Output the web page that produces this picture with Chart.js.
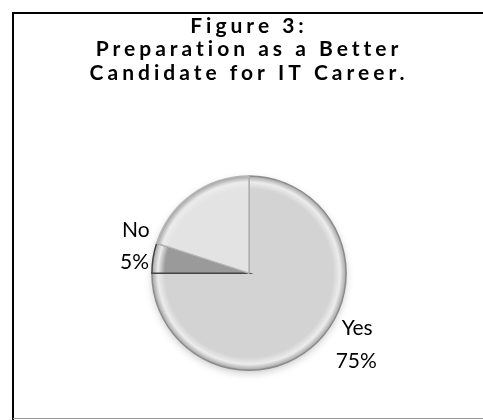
<!DOCTYPE html>
<html>
<head>
<meta charset="utf-8">
<script src="https://cdn.jsdelivr.net/npm/chart.js@4/dist/chart.umd.min.js"></script>
<style>
  html, body { margin: 0; padding: 0; background: #fff; }
  #wrap { width: 483px; height: 420px; }
</style>
</head>
<body>
<div id="wrap"><canvas id="myCanvas" width="483" height="420"></canvas></div>
<script>
const titleLines = ["Figure 3:", "Preparation as a Better", "Candidate for IT Career."]
const categories = ["Yes", "No", ""]
const percentages = [75, 5, 20]
const sliceColors = ["#d3d3d3", "#9a9a9a", "#e3e3e3"]

// frame around the figure, like the pasted office chart
const framePlugin = {
  id: "frame",
  beforeDraw(chart) {
    const ctx = chart.ctx
    ctx.save()
    ctx.fillStyle = "#fff"
    ctx.fillRect(0, 0, chart.width, chart.height)
    ctx.strokeStyle = "#000"
    ctx.lineWidth = 2
    ctx.beginPath()
    ctx.moveTo(13, chart.height)
    ctx.lineTo(13, 13)
    ctx.lineTo(chart.width, 13)
    ctx.stroke()
    ctx.strokeStyle = "#999"
    ctx.lineWidth = 1
    ctx.beginPath()
    ctx.moveTo(13, chart.height - 1.5)
    ctx.lineTo(chart.width, chart.height - 1.5)
    ctx.stroke()
    ctx.restore()
    // the title is drawn with wide letter spacing
    ctx.letterSpacing = "4px"
  },
  beforeDatasetsDraw(chart) {
    const ctx = chart.ctx
    ctx.letterSpacing = "0px"
    ctx.save()
    ctx.shadowColor = "rgba(0,0,0,0.25)"
    ctx.shadowBlur = 8
    ctx.shadowOffsetY = 3
    const a = chart.getDatasetMeta(0).data[0]
    ctx.beginPath()
    ctx.arc(a.x, a.y, a.outerRadius - 1, 0, Math.PI * 2)
    ctx.fillStyle = "#ccc"
    ctx.fill()
    ctx.restore()
  },
  afterDatasetsDraw(chart) {
    const ctx = chart.ctx
    const meta = chart.getDatasetMeta(0)
    ctx.save()
    ctx.letterSpacing = "0px"
    ctx.font = "21px Lato"
    ctx.fillStyle = "#000"
    ctx.textAlign = "left"
    ctx.textBaseline = "alphabetic"
    meta.data.forEach((arc, i) => {
      if (!categories[i]) return
      const mid = (arc.startAngle + arc.endAngle) / 2
      const px = arc.x + Math.cos(mid) * arc.outerRadius
      const py = arc.y + Math.sin(mid) * arc.outerRadius
      const txt = percentages[i] + "%"
      if (Math.cos(mid) < 0) {
        ctx.fillText(categories[i], px - 31, py - 21)
        ctx.fillText(txt, px - 33, py + 11)
      } else {
        ctx.fillText(categories[i], px + 24, py - 7)
        ctx.fillText(txt, px + 18, py + 26)
      }
    })
    ctx.restore()
  }
}

function sliceFill(context) {
  const chart = context.chart
  const area = chart.chartArea
  if (!area) return sliceColors[context.dataIndex]
  const cx = (area.left + area.right) / 2
  const cy = (area.top + area.bottom) / 2
  const r = Math.min(area.right - area.left, area.bottom - area.top) / 2
  const g = chart.ctx.createRadialGradient(cx, cy, 0, cx, cy, r)
  const c = sliceColors[context.dataIndex]
  g.addColorStop(0, c)
  g.addColorStop(0.86, c)
  g.addColorStop(0.93, "#ececec")
  g.addColorStop(1, "#9a9a9a")
  return g
}

const ctx = document.getElementById("myCanvas").getContext("2d")
const chartInstance = new Chart(ctx, {
  type: "pie",
  data: {
    labels: categories,
    datasets: [
      {
        data: percentages,
        backgroundColor: sliceFill,
        borderColor: ["#8c8c8c", "#444", "#b5b5b5"],
        borderWidth: 1.5,
        borderJoinStyle: "miter",
      },
    ],
  },
  options: {
    responsive: false,
    animation: false,
    layout: { padding: { left: 28, right: 13, top: 0, bottom: 49 } },
    plugins: {
      legend: { display: false },
      tooltip: { enabled: false },
      title: {
        display: true,
        text: titleLines,
        color: "#000",
        font: { family: "Lato", size: 21, weight: "bold", lineHeight: 1.1 },
        padding: { top: 15, bottom: 91 },
      },
    },
  },
  plugins: [framePlugin],
})
</script>
</body>
</html>
